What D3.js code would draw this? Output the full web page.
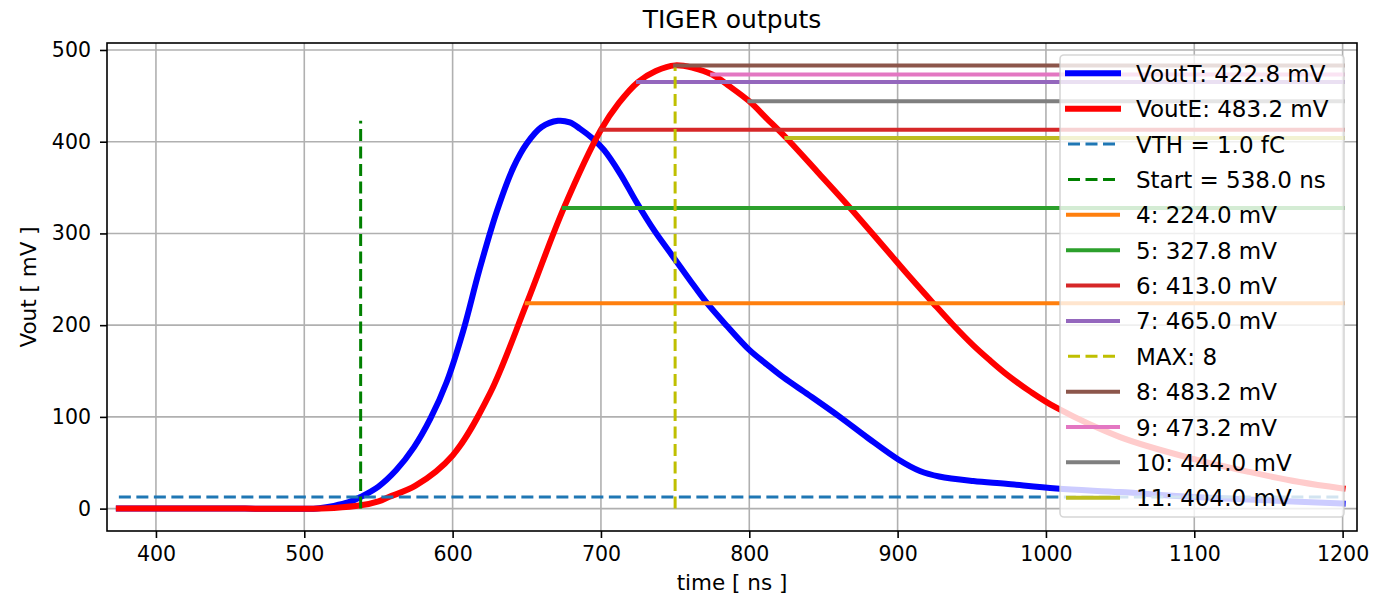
<!DOCTYPE html>
<html><head><meta charset="utf-8">
<script src="https://cdn.jsdelivr.net/npm/d3@7"></script>
<style>
body{margin:0;background:#fff}
text{font-family:"DejaVu Sans",sans-serif;fill:#000}
</style>
</head><body>
<svg id="chart" width="1380" height="598"></svg>
<script>
// ---- data ----
const voutTTime = [375,420,460,490,500,510,520,530,538,550,562,574,585,596,607,618,630,641,650,660,671,679,686,694,702,713,724,736,748,760,771,785,800,812,823,840,861,880,901,915,928,951,973,1007,1050,1100,1150,1200];
const voutTVal  = [0,0,0,-0.1,-0.2,0.5,3,7,12.7,24,42,67,98,138,193,260,325,372,398,416,422.8,421,414,404,391,365,334,303,276,249,225,199,173,157,143,124,100,77,53,41,35,30,27,22,18,12.7,9,5.5];
const voutETime = [375,420,460,490,500,520,538,550,557,575,600,625,650,675,700,712,725,737,750,762,775,787,800,812,825,846,868,892,908,924,937,951,962,973,990,1007,1050,1100,1137,1171,1200];
const voutEVal  = [0,0,0,-0.1,-0.2,0.8,3.6,8,12.7,25,58,125,224,327.8,413,442,465,477,483.2,480.5,473.2,460,444,425,404,367,327.8,283,253,224,201,178,162,147,127,110,78,54,40,29,22];
const vthValue = 12.6;
const startTime = 538.0;
const maxTime = 750;
const levelNames  = ["4","5","6","7","8","9","10","11"];
const levelTimes  = [650,675,700,725,750,775,800,825];
const levelValues = [224.0,327.8,413.0,465.0,483.2,473.2,444.0,404.0];
const xTicks = [400,500,600,700,800,900,1000,1100,1200];
const yTicks = [0,100,200,300,400,500];
const tEnd = 1200, tStart = 375;
const voutTMax = 422.8, voutEMax = 483.2;

// ---- layout ----
const L = 107, R = 1357, T = 43, B = 531;
const x = d3.scaleLinear().domain([367.0, 1209.7]).range([L, R]);
const y = d3.scaleLinear().domain([-24.4, 507.6]).range([B, T]);
const svg = d3.select("#chart");

const levelColors = ["#ff7f0e","#2ca02c","#d62728","#9467bd","#8c564b","#e377c2","#7f7f7f","#bcbd22"];
const DASH = "12,5.5";

svg.append("defs").append("clipPath").attr("id","clip")
  .append("rect").attr("x",L).attr("y",T).attr("width",R-L).attr("height",B-T);

// grid
const grid = svg.append("g");
grid.selectAll(".gx").data(xTicks).join("line")
  .attr("x1",d=>x(d)).attr("x2",d=>x(d)).attr("y1",T).attr("y2",B)
  .attr("stroke","#b0b0b0").attr("stroke-width",1.6);
grid.selectAll(".gy").data(yTicks).join("line")
  .attr("y1",d=>y(d)).attr("y2",d=>y(d)).attr("x1",L).attr("x2",R)
  .attr("stroke","#b0b0b0").attr("stroke-width",1.6);

const plot = svg.append("g").attr("clip-path","url(#clip)");
const line = d3.line().x(d=>x(d[0])).y(d=>y(d[1])).curve(d3.curveCatmullRom.alpha(0.5));

plot.append("path").datum(voutTTime.map((t,i)=>[t,voutTVal[i]]))
  .attr("d",line).attr("fill","none").attr("stroke","#0000ff").attr("stroke-width",6)
  .attr("stroke-linejoin","round").attr("stroke-linecap","square");
plot.append("path").datum(voutETime.map((t,i)=>[t,voutEVal[i]]))
  .attr("d",line).attr("fill","none").attr("stroke","#ff0000").attr("stroke-width",6)
  .attr("stroke-linejoin","round").attr("stroke-linecap","square");

// VTH
plot.append("line").attr("x1",x(tStart)).attr("x2",x(tEnd)).attr("y1",y(vthValue)).attr("y2",y(vthValue))
  .attr("stroke","#1f77b4").attr("stroke-width",3).attr("stroke-dasharray",DASH);
// Start
plot.append("line").attr("x1",x(startTime)).attr("x2",x(startTime)).attr("y1",y(0)).attr("y2",y(voutTMax))
  .attr("stroke","#008000").attr("stroke-width",3).attr("stroke-dasharray",DASH);

function level(i){
  plot.append("line").attr("x1",x(levelTimes[i])).attr("x2",x(tEnd))
    .attr("y1",y(levelValues[i])).attr("y2",y(levelValues[i]))
    .attr("stroke",levelColors[i]).attr("stroke-width",4).attr("stroke-linecap","square");
}
for(let i=0;i<4;i++) level(i);
plot.append("line").attr("x1",x(maxTime)).attr("x2",x(maxTime)).attr("y1",y(0)).attr("y2",y(voutEMax))
  .attr("stroke","#bfbf00").attr("stroke-width",3).attr("stroke-dasharray",DASH);
for(let i=4;i<8;i++) level(i);

// axes
const xAxis = d3.axisBottom(x).tickValues(xTicks).tickSize(7).tickPadding(8).tickFormat(d3.format("d"));
const yAxis = d3.axisLeft(y).tickValues(yTicks).tickSize(7).tickPadding(9).tickFormat(d3.format("d"));
const gx = svg.append("g").attr("transform",`translate(0,${B})`).call(xAxis);
const gy = svg.append("g").attr("transform",`translate(${L},0)`).call(yAxis);
[gx,gy].forEach(g=>{
  g.select(".domain").remove();
  g.selectAll(".tick line").attr("stroke","#000").attr("stroke-width",1.6);
  g.selectAll(".tick text").style("font-family","DejaVu Sans").style("font-size","20.5px").attr("fill","#000");
});
svg.append("rect").attr("x",L).attr("y",T).attr("width",R-L).attr("height",B-T)
  .attr("fill","none").attr("stroke","#000").attr("stroke-width",1.6);

// labels
svg.append("text").attr("x",(L+R)/2).attr("y",28).attr("text-anchor","middle").style("font-size","25px").text("TIGER outputs");
svg.append("text").attr("x",(L+R)/2).attr("y",590).attr("text-anchor","middle").style("font-size","21.5px").text("time [ ns ]");
svg.append("text").attr("transform",`translate(36,${(T+B)/2}) rotate(-90)`).attr("text-anchor","middle").style("font-size","21.5px").text("Vout [ mV ]");

// legend
const legendLabels = ["VoutT: 422.8 mV","VoutE: 483.2 mV","VTH = 1.0 fC","Start = 538.0 ns"]
  .concat(levelNames.slice(0,4).map((n,i)=>`${n}: ${levelValues[i].toFixed(1)} mV`))
  .concat(["MAX: 8"])
  .concat(levelNames.slice(4).map((n,i)=>`${n}: ${levelValues[i+4].toFixed(1)} mV`));
const legendStyles = [["#0000ff",6,null],["#ff0000",6,null],["#1f77b4",3,DASH],["#008000",3,DASH]]
  .concat(levelColors.slice(0,4).map(c=>[c,4,null]))
  .concat([["#bfbf00",3,DASH]])
  .concat(levelColors.slice(4).map(c=>[c,4,null]));
const lg = svg.append("g");
lg.append("rect").attr("x",1060).attr("y",55).attr("width",284).attr("height",462).attr("rx",4)
  .attr("fill","#fff").attr("fill-opacity",0.8).attr("stroke","#cccccc").attr("stroke-opacity",0.8).attr("stroke-width",1.6);
legendLabels.forEach((lab,i)=>{
  const cy = 73.3 + i*35.37;
  const s = legendStyles[i];
  const dashed = !!s[2];
  lg.append("line").attr("x1",1068).attr("x2",dashed?1120:1118).attr("y1",cy).attr("y2",cy)
    .attr("stroke",s[0]).attr("stroke-width",s[1]).attr("stroke-dasharray",s[2])
    .attr("stroke-linecap",dashed?"butt":"square");
  lg.append("text").attr("x",1136).attr("y",cy+8.5).style("font-size","23px").text(lab);
});
</script>
</body></html>
